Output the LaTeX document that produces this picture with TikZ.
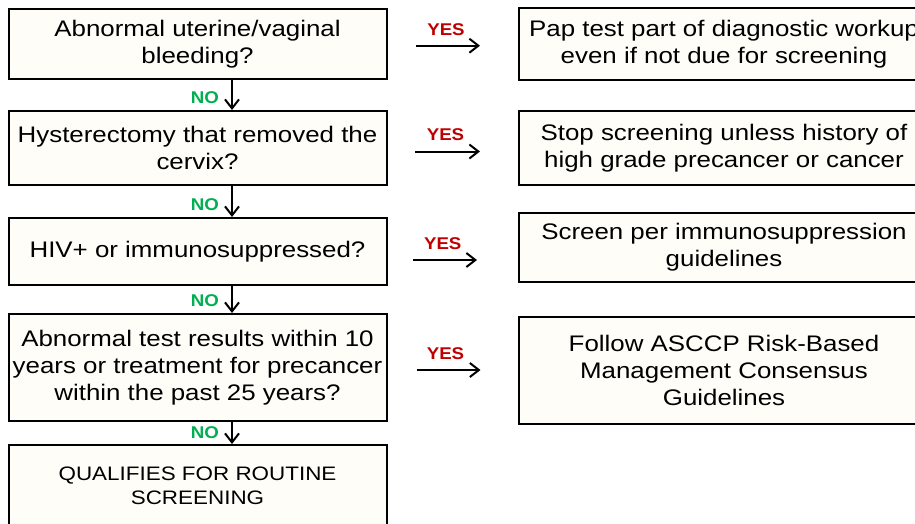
\documentclass[tikz,border=0pt]{standalone}
\usepackage{fontspec}
\setmainfont{Liberation Sans}[FakeStretch=1.15, BoldFont=Liberation Sans Bold]
\newfontfamily\labfont{Liberation Sans Bold}[FakeStretch=1.1]
\usetikzlibrary{arrows.meta}
\definecolor{boxfill}{HTML}{FFFDF7}
\definecolor{yesred}{HTML}{C00000}
\definecolor{nogreen}{HTML}{00B050}
\begin{document}
\begin{tikzpicture}[x=1pt,y=-1pt,
  box/.style={draw=black, line width=2pt, fill=boxfill, align=center, inner sep=0pt,
              font=\fontsize{22.5}{27}\selectfont},
  lbox/.style={box, minimum width=378pt},
  rbox/.style={box, minimum width=411pt},
  flow/.style={line width=2pt, -{Straight Barb[length=9pt,width=14pt]}},
  yeslab/.style={font=\labfont\fontsize{17}{19}\selectfont, text=yesred, inner sep=0pt},
  nolab/.style={font=\labfont\fontsize{17}{19}\selectfont, text=nogreen, inner sep=0pt},
]
\useasboundingbox (0,0) rectangle (915,523);
\clip (0,0) rectangle (915,523);

% left column
\node[lbox, minimum height=70pt]  (b1) at (197.5,44)    {Abnormal uterine/vaginal\\bleeding?};
\node[lbox, minimum height=74pt]  (b2) at (197.5,148)   {Hysterectomy that removed the\\cervix?};
\node[lbox, minimum height=67pt]  (b3) at (197.5,251.5) {HIV+ or immunosuppressed?};
\node[lbox, minimum height=107pt] (b4) at (197.5,367.5) {Abnormal test results within 10\\years or treatment for precancer\\within the past 25 years?};
\node[lbox, minimum height=82pt, font=\fontsize{19.5}{24}\selectfont] (b5) at (197.5,486) {QUALIFIES FOR ROUTINE\\SCREENING};

% right column
\node[rbox, minimum height=72pt]  (r1) at (724,44)    {Pap test part of diagnostic workup\\even if not due for screening};
\node[rbox, minimum height=74pt]  (r2) at (724,148)   {Stop screening unless history of\\high grade precancer or cancer};
\node[rbox, minimum height=69pt]  (r3) at (724,247.5) {Screen per immunosuppression\\guidelines};
\node[rbox, minimum height=107pt] (r4) at (724,370.5) {Follow ASCCP Risk-Based\\Management Consensus\\Guidelines};

% NO arrows
\draw[flow] ([xshift=34.5pt]b1.south) -- node[nolab, left=12pt, yshift=-3pt]{NO} ([xshift=34.5pt]b2.north);
\draw[flow] ([xshift=34.5pt]b2.south) -- node[nolab, left=12pt, yshift=-3pt]{NO} ([xshift=34.5pt]b3.north);
\draw[flow] ([xshift=34.5pt]b3.south) -- node[nolab, left=12pt, yshift=-1pt]{NO} ([xshift=34.5pt]b4.north);
\draw[flow] ([xshift=34.5pt]b4.south) -- node[nolab, left=12pt]{NO} ([xshift=34.5pt]b5.north);

% YES arrows
\coordinate (ys1) at (416,45.7);  \coordinate (ye1) at (480,45.7);
\coordinate (ys2) at (415,151.5); \coordinate (ye2) at (480,151.5);
\coordinate (ys3) at (412.5,260); \coordinate (ye3) at (477,260);
\coordinate (ys4) at (416.5,370); \coordinate (ye4) at (480.5,370);
\draw[flow] (ys1) -- node[yeslab, above=9.5pt, xshift=-2pt]{YES} (ye1);
\draw[flow] (ys2) -- node[yeslab, above=9.5pt, xshift=-2pt]{YES} (ye2);
\draw[flow] (ys3) -- node[yeslab, above=9.5pt, xshift=-2pt]{YES} (ye3);
\draw[flow] (ys4) -- node[yeslab, above=9.5pt, xshift=-3pt]{YES} (ye4);
\end{tikzpicture}
\end{document}
